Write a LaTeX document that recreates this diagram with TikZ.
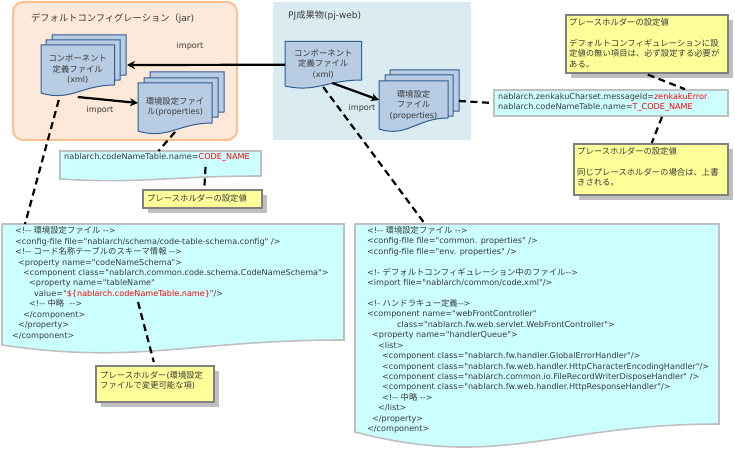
\documentclass[tikz,border=0pt]{standalone}
\usepackage{fontspec}
\usetikzlibrary{arrows.meta,shadows}
\newfontfamily\latf{DejaVu Sans}
\newfontfamily\J[Scale=1.03]{Noto Sans CJK JP}
\definecolor{docfill}{HTML}{B8CCE4}
\definecolor{docline}{HTML}{2F5C8F}
\definecolor{cyanfill}{HTML}{CCFFFF}
\definecolor{cyanline}{HTML}{C0C0C0}
\definecolor{notefill}{HTML}{FFFF99}
\definecolor{noteline}{HTML}{808080}
\definecolor{inktext}{HTML}{383838}
\definecolor{jarfill}{HTML}{FDE9D9}
\definecolor{jarline}{HTML}{FAC090}
\definecolor{pjfill}{HTML}{DAECF2}
\newcommand{\wavy}[7][]{% style; x1,y1,x2,yL,yR,c2
  \path[#1] (#2,#3) -- (#4,#3) -- (#4,#6)
    .. controls ({#2+0.55*(#4-#2)},#6) and ({#2+0.4*(#4-#2)},#7) .. (#2,#5) -- cycle;}
\newcommand{\blob}[7]{% name; x1,y1,x2,y2; style; text
  \node[inner sep=0pt,outer sep=0pt,minimum width={(#4-#2)*1pt},minimum height={(#5-#3)*1pt},#6]
    (#1) at ({(#2+#4)/2},{(#3+#5)/2}) {#7};}
\tikzset{
  x=1pt,y=-1pt,
  base/.style={font=\latf\fontsize{8.1}{10.45}\selectfont,text=inktext},
  docshape/.style={draw=docline,fill=docfill,line width=1pt},
  cyanshape/.style={draw=cyanline,fill=cyanfill,line width=1.6pt},
  doclabel/.style={base,align=center},
  lbl/.style={base,inner sep=0pt,anchor=west},
  codetext/.style={lbl,anchor=north west,align=left},
  notebox/.style={draw=noteline,fill=notefill,line width=1.6pt,anchor=north west,
    inner sep=0pt,drop shadow={shadow xshift=5pt,shadow yshift=-5pt,opacity=1,fill=black!25}},
  link/.style={draw=black,line width=2.2pt,dash pattern=on 7pt off 4.5pt},
  flow/.style={draw=black,line width=2.2pt,-{Stealth[length=8pt,width=8pt]}},
}
\begin{document}
\begin{tikzpicture}
\useasboundingbox (0,0) rectangle (735,449);
% group panels
\node[draw=jarline,fill=jarfill,line width=2pt,rounded corners=10pt,inner sep=0pt,
  minimum width=224pt,minimum height=138pt] (jar) at (125,71) {};
\node[fill=pjfill,draw=none,inner sep=0pt,minimum width=198pt,minimum height=138pt] (pj) at (372,71) {};
\node[lbl,font=\latf\fontsize{9}{10}\selectfont] (jartitle) at (31,18) {{\J デフォルトコンフィグレーション（}jar)};
\node[lbl,font=\latf\fontsize{9}{10}\selectfont] (pjtitle) at (288,16) {PJ{\J 成果物}(pj-web)};
% documents
\wavy[docshape]{52}{35}{126}{83}{75}{92}
\wavy[docshape]{46}{40}{120}{88}{80}{97}
\wavy[docshape]{41}{45}{114.5}{93}{85}{102}
\blob{xmlA}{41}{45}{114.5}{93}{doclabel}{{\J コンポーネント}\\{\J 定義ファイル}\\(xml)}
\wavy[docshape]{150}{72}{224}{120}{112}{129}
\wavy[docshape]{144}{78}{218}{125}{117}{134}
\wavy[docshape]{138}{83}{212}{131}{123}{140}
\blob{propA}{138}{83}{212}{131}{doclabel}{{\J 環境設定ファイ}\\{\J ル}(properties)}
\wavy[docshape]{285}{41.5}{361.5}{86}{80}{93}
\blob{xmlB}{285}{41.5}{361.5}{86}{doclabel}{{\J コンポーネント}\\{\J 定義ファイル}\\(xml)}
\wavy[docshape]{390}{70}{459}{120}{111}{130}
\wavy[docshape]{385}{75}{453}{123}{116}{133}
\wavy[docshape]{379}{81}{448}{129}{118}{138}
\blob{propB}{379}{81}{448}{129}{doclabel}{{\J 環境設定}\\{\J ファイル}\\(properties)}
% value boxes
\wavy[cyanshape]{60}{151}{261}{179}{176}{184}
\blob{valA}{60}{151}{261}{179}{}{}
\node[lbl] (valAtext) at (64,157) {nablarch.codeNameTable.name=\textcolor{red}{CODE\_NAME}};
\node[cyanshape,inner sep=0pt,minimum width=234pt,minimum height=26pt] (valB) at (611,103) {};
\node[lbl,align=left] (valBtext) at (498,102.5) {nablarch.zenkakuCharset.messageId=\textcolor{red}{zenkakuError}\\nablarch.codeNameTable.name=\textcolor{red}{T\_CODE\_NAME}};
% code boxes
\wavy[cyanshape]{2}{224}{344}{345}{340}{365}
\blob{codeA}{2}{224}{344}{345}{}{}
\node[codetext] (codeAtext) at (12,226.5) {%
\hspace*{3pt}<!-- {\J 環境設定ファイル} -->\\
\hspace*{3pt}<config-file file="nablarch/schema/code-table-schema.config" />\\
\hspace*{3pt}<!-- {\J コード名称テーブルのスキーマ情報} -->\\
\hspace*{6pt}<property name="codeNameSchema">\\
\hspace*{11pt}<component class="nablarch.common.code.schema.CodeNameSchema">\\
\hspace*{17pt}<property name="tableName"\\
\hspace*{22pt}value="\textcolor{red}{\$\{nablarch.codeNameTable.name\}}"/>\\
\hspace*{17pt}<!-- {\J 中略}\ \ -->\\
\hspace*{11pt}</component>\\
\hspace*{6pt}</property>\\
</component>};
\wavy[cyanshape]{355}{224}{719}{432}{424}{470}
\blob{codeB}{355}{224}{719}{432}{}{}
\node[codetext] (codeBtext) at (367,226) {%
<!-- {\J 環境設定ファイル} -->\\
<config-file file="common. properties" />\\
<config-file file="env. properties" />\\
\mbox{}\\
<!- {\J デフォルトコンフィギュレーション中のファイル}-->\\
<import file="nablarch/common/code.xml"/>\\
\mbox{}\\
<!- {\J ハンドラキュー定義}-->\\
<component name="webFrontController"\\
\hspace*{30pt}class="nablarch.fw.web.servlet.WebFrontController">\\
\hspace*{5pt}<property name="handlerQueue">\\
\hspace*{11pt}<list>\\
\hspace*{15pt}<component class="nablarch.fw.handler.GlobalErrorHandler"/>\\
\hspace*{15pt}<component class="nablarch.fw.web.handler.HttpCharacterEncodingHandler"/>\\
\hspace*{15pt}<component class="nablarch.common.io.FileRecordWriterDisposeHandler" />\\
\hspace*{15pt}<component class="nablarch.fw.web.handler.HttpResponseHandler"/>\\
\hspace*{15pt}<!-- {\J 中略} -->\\
\hspace*{11pt}</list>\\
\hspace*{5pt}</property>\\
</component>};
% notes
\node[notebox,minimum width=119pt,minimum height=18pt] (noteA) at (142,189) {};
\node[codetext] (noteAtext) at (147,194) {{\J プレースホルダーの設定値}};
\node[notebox,minimum width=162pt,minimum height=58pt] (noteB) at (565,14) {};
\node[codetext] (noteBtext) at (569,18) {{\J プレースホルダーの設定値}\\\mbox{}\\{\J デフォルトコンフィギュレーションに設}\\{\J 定値の無い項目は、必ず設定する必要が}\\{\J ある。}};
\node[notebox,minimum width=154pt,minimum height=51pt] (noteC) at (573,143) {};
\node[codetext] (noteCtext) at (577,147) {{\J プレースホルダーの設定値}\\\mbox{}\\{\J 同じプレースホルダーの場合は、上書}\\{\J きされる。}};
\node[notebox,minimum width=118pt,minimum height=36pt] (noteD) at (95,365) {};
\node[codetext] (noteDtext) at (100,371) {{\J プレースホルダー}({\J 環境設定}\\{\J ファイルで変更可能な項})};
% import labels
\node[base] (impA) at (190,46) {import};
\node[base] (impB) at (100,110) {import};
\node[base] (impC) at (362,108) {import};
% flows
\draw[flow] ([shift={(0,1)}]xmlB.west) -- ([shift={(12.5,-4)}]xmlA.east);
\draw[flow] ([shift={(0,4)}]xmlA.south) -- ([shift={(0,-4)}]propA.west);
\draw[flow] ([shift={(9,-3)}]xmlB.south) -- ([shift={(0,-5)}]propB.west);
% dashed links
\draw[link] ([shift={(-19,7)}]xmlA.south) -- ([shift={(23,0)}]codeA.north west);
\draw[link] ([shift={(-37,1)}]propA.south east) -- ([shift={(-2,0)}]valA.north);
\draw[link] ([shift={(45,-12)}]valA.south) -- ([shift={(2,0)}]noteA.north);
\draw[link] ([shift={(0,1)}]xmlB.south) -- ([shift={(-112,0)}]codeB.north);
\draw[link] ([shift={(11,-4)}]propB.east) -- (valB.west);
\draw[link] ([shift={(1,1)}]noteB.south) -- ([shift={(74,0)}]valB.north);
\draw[link] ([shift={(51,0)}]valB.south) -- ([shift={(1,0)}]noteC.north);
\draw[link] ([shift={(-35,-43)}]codeA.south) -- ([shift={(-1,-3)}]noteD.north);
\end{tikzpicture}
\end{document}
